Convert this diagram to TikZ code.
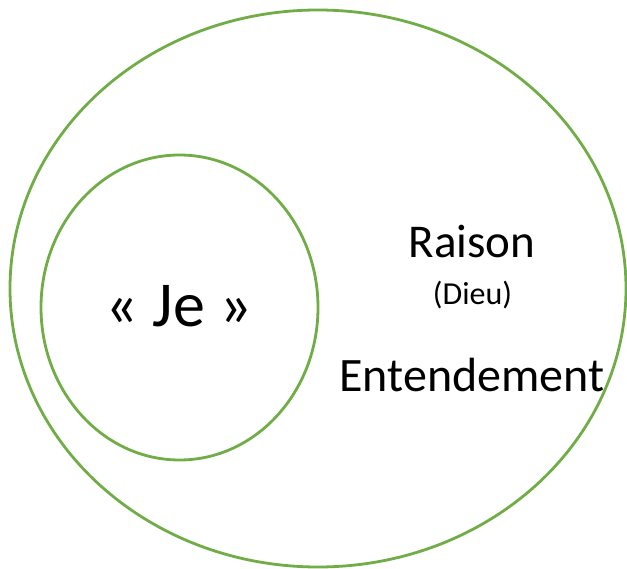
\documentclass[tikz,border=0pt]{standalone}
\usepackage{fontspec}
\setmainfont{Carlito}
\definecolor{ogreen}{HTML}{70AD47}
\begin{document}
\begin{tikzpicture}[x=1pt,y=-1pt,
  ring/.style={draw=ogreen,line width=2.8pt},
  lbl/.style={anchor=base,inner sep=0pt,text=black}]
\useasboundingbox (0,0) rectangle (627,569);
\draw[ring] (318,288.5) ellipse [x radius=308,y radius=278.5];
\draw[ring] (179.5,307.5) ellipse [x radius=138.5,y radius=152.5];
\node[lbl,font=\fontsize{64}{70}\selectfont] (je) at (179,327) {« Je »};
\node[lbl,font=\fontsize{47}{50}\selectfont] (raison) at (472,258) {Raison};
\node[lbl,font=\fontsize{32}{36}\selectfont] (dieu) at (472.5,305) {(Dieu)};
\node[lbl,font=\fontsize{48}{52}\selectfont] (ent) at (472,392) {Entendement};
\end{tikzpicture}
\end{document}
